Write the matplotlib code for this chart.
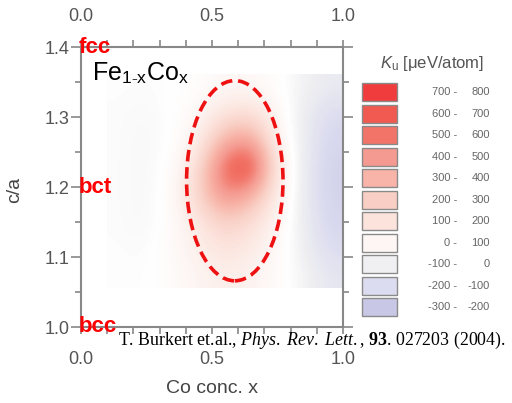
import numpy as np
import matplotlib
matplotlib.use("Agg")
import matplotlib.pyplot as plt
from matplotlib.colors import LinearSegmentedColormap
from matplotlib.patches import Ellipse, Rectangle

plt.rcParams['font.family'] = 'Liberation Sans'
plt.rcParams['mathtext.fontset'] = 'custom'
plt.rcParams['mathtext.rm'] = 'Liberation Serif'
plt.rcParams['mathtext.it'] = 'Liberation Serif:italic'
plt.rcParams['mathtext.bf'] = 'Liberation Serif:bold'
plt.rcParams['mathtext.sf'] = 'Liberation Sans:italic'

# ---------------------------
# Data
# ---------------------------
# grid of K_u [ueV/atom], rows = c/a (bottom -> top), cols = Co conc. x
x_centers = [0.15, 0.25, 0.35, 0.45, 0.55, 0.65, 0.75, 0.85, 0.95]
ca_centers = [1.074, 1.112, 1.150, 1.188, 1.227, 1.265, 1.303, 1.341]
K = np.array([
    [ -5,  -5,  20,  60,  90,  70,  20,  -30, -100],
    [ -5, -15,  30,  90, 150, 110,  30,  -50, -150],
    [-10, -25,  20, 120, 250, 180,  50,  -60, -180],
    [-10, -25,  20, 220, 500, 380,  80,  -60, -200],
    [-10, -25,  10, 180, 620, 750, 100,  -60, -200],
    [-10, -25,   0,  80, 380, 450,  60,  -60, -180],
    [-10, -20,   0,  40, 150, 180,  40,  -60, -150],
    [ -5, -10,   0,  10,  40,  40,  10,  -40,  -80],
])

# legend levels
level_lo = [700, 600, 500, 400, 300, 200, 100, 0, -100, -200, -300]
level_hi = [800, 700, 600, 500, 400, 300, 200, 100, 0, -100, -200]
level_colors = ['#f03c3c', '#f05a50', '#f27468', '#f59a90', '#f8b4a8',
                '#f9cfc5', '#fce3dc', '#fdf6f4', '#f0f0f2', '#dcdcf0', '#c8c8e6']

# structures marked on the c/a axis
struct_names = ['fcc', 'bct', 'bcc']
struct_ca = [1.4, 1.2, 1.0]

# ellipse round the maximum (x, c/a, width, height)
ell_x, ell_ca, ell_w, ell_h = 0.587, 1.209, 0.368, 0.286

# ---------------------------
# Colormap
# ---------------------------
vmin, vmax = -300, 800
mids = [(lo + hi) / 2 for lo, hi in zip(level_lo, level_hi)][::-1]
nodes = [(-300, '#c4c4e4'), (0, '#ffffff'), (800, '#f03030')]
nodes += [(m, c) for m, c in zip(mids, level_colors[::-1])]
nodes = sorted(nodes, key=lambda t: t[0])
cmap = LinearSegmentedColormap.from_list('ku', [((v - vmin) / (vmax - vmin), c) for v, c in nodes])

# ---------------------------
# Figure
# ---------------------------
fig = plt.figure(figsize=(5.12, 4.03), dpi=100)
ax = fig.add_axes([81/512, 1 - 327/403, 262/512, 280/403])

dx = x_centers[1] - x_centers[0]
dca = ca_centers[1] - ca_centers[0]
ax.imshow(K, origin='lower', cmap=cmap, vmin=vmin, vmax=vmax,
          interpolation='bicubic', aspect='auto',
          extent=(x_centers[0] - dx/2, x_centers[-1] + dx/2,
                  ca_centers[0] - dca/2, ca_centers[-1] + dca/2))

ax.add_patch(Ellipse((ell_x, ell_ca), ell_w, ell_h, fill=False,
                     edgecolor='#ee1111', lw=2.6, ls=(0, (3.2, 1.6))))

ax.set_xlim(0, 1.0)
ax.set_ylim(1.0, 1.4)

gray = '#888888'
for s in ax.spines.values():
    s.set_color(gray)
    s.set_linewidth(1.5)

ax.set_xticks([0.0, 0.5, 1.0])
ax.set_xticks(np.arange(0, 1.01, 0.1), minor=True)
ax.set_yticks([1.0, 1.1, 1.2, 1.3, 1.4])
ax.set_yticks(np.arange(1.0, 1.401, 0.05), minor=True)
ax.set_xticklabels(['0.0', '0.5', '1.0'])
ax.set_yticklabels(['1.0', '1.1', '1.2', '1.3', '1.4'])

ax.tick_params(axis='x', which='both', direction='out', colors=gray,
               labelcolor='#555555', labelsize=13, top=True, bottom=True,
               length=5, width=1.2, pad=12)
ax.tick_params(axis='y', which='major', direction='out', colors=gray,
               labelcolor='#555555', labelsize=13, right=True, length=7,
               width=1.2, pad=1)
ax.tick_params(axis='y', which='minor', direction='out', colors=gray,
               right=True, length=4, width=1.2)

top = ax.secondary_xaxis('top')
top.set_xticks([0.0, 0.5, 1.0])
top.set_xticklabels(['0.0', '0.5', '1.0'])
top.tick_params(direction='out', colors=gray, labelcolor='#555555',
                labelsize=13, length=0, pad=16)
top.spines['top'].set_visible(False)

ax.set_xlabel('Co conc. x', fontsize=14, color='#444444')
ax.xaxis.set_label_coords(0.5, -0.19)
ax.set_ylabel('c/a', fontsize=14, color='#444444')
ax.yaxis.set_label_coords(-0.22, 0.49)

# structure labels
for name, ca in zip(struct_names, struct_ca):
    ax.text(-0.008, ca, name, color='#ff0000', fontsize=16, fontweight='bold',
            ha='left', va='center', clip_on=False, zorder=5)

ax.text(0.042, 1.353, r'Fe$_{\mathregular{1\text{-}x}}$Co$_{\mathregular{x}}$',
        fontsize=18, color='black', ha='left', va='baseline')

# citation
fig.text(118/512, 1 - 345/403,
         r'T. Burkert et.al., $\mathit{Phys.\ Rev.\ Lett.}$, $\mathbf{93}$. 027203 (2004).',
         fontsize=12.9, family='Liberation Serif', color='black',
         ha='left', va='baseline')

# ---------------------------
# Legend (pixel coords)
# ---------------------------
lax = fig.add_axes([345/512, 1 - 340/403, 167/512, 305/403])
lax.set_xlim(345, 512)
lax.set_ylim(340, 35)
lax.axis('off')
lax.text(432, 63, r'$\mathsf{K}_{\mathregular{u}}$ [$\mathregular{\mu}$eV/atom]',
         fontsize=12, color='#555555', ha='center', va='center')
for i, (lo, hi, c) in enumerate(zip(level_lo, level_hi, level_colors)):
    y0 = 83 + i * 21.5
    lax.add_patch(Rectangle((362, y0), 35, 18, facecolor=c,
                            edgecolor='#8a8a8a', lw=1.0))
    lax.text(457, y0 + 9, f'{lo} -', fontsize=8, color='#666666',
             ha='right', va='center')
    lax.text(490, y0 + 9, f'{hi}', fontsize=8, color='#666666',
             ha='right', va='center')

fig.savefig('out.png', dpi=100)
